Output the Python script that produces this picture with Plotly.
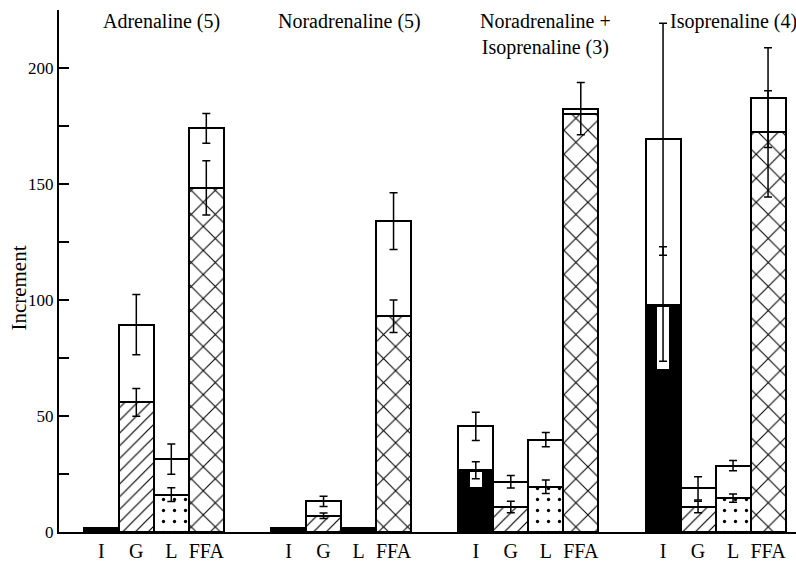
import plotly.graph_objects as go

groups = ["Adrenaline (5)", "Noradrenaline (5)", "Noradrenaline +<br>Isoprenaline (3)", "Isoprenaline (4)"]
categories = ["I", "G", "L", "FFA"]

# lower (patterned) part of each bar, per category, across the four groups
i_lower = [1.8, 1.8, 26.6, 97.9]
g_lower = [55.9, 7.0, 10.8, 10.8]
l_lower = [16.1, 1.0, 19.5, 14.6]
ffa_lower = [148.3, 93.0, 180.0, 172.6]

# total height (upper open part on top of the patterned part)
i_total = [1.8, 1.8, 45.5, 169.3]
g_total = [89.4, 13.2, 21.7, 18.8]
l_total = [31.4, 1.6, 39.8, 28.6]
ffa_total = [174.0, 134.0, 182.5, 187.2]

# error bars of the lower part
i_lower_err_plus = [0, 0, 3.7, 25.0]
i_lower_err_minus = [0, 0, 3.7, 24.3]
g_lower_err = [6.0, 1.2, 2.5, 2.5]
l_lower_err = [3.0, 0, 2.9, 1.8]
ffa_lower_err_plus = [11.7, 7.0, 0, 17.6]
ffa_lower_err_minus = [11.7, 7.0, 0, 28.2]

# error bars of the total
i_total_err = [0, 0, 6.1, 50.0]
g_total_err = [13.0, 2.2, 2.7, 5.0]
l_total_err = [6.5, 0, 3.1, 2.2]
ffa_total_err = [6.4, 12.2, 11.3, 21.5]

lowers = [i_lower, g_lower, l_lower, ffa_lower]
totals = [i_total, g_total, l_total, ffa_total]
lower_plus = [i_lower_err_plus, g_lower_err, l_lower_err, ffa_lower_err_plus]
lower_minus = [i_lower_err_minus, g_lower_err, l_lower_err, ffa_lower_err_minus]
total_errs = [i_total_err, g_total_err, l_total_err, ffa_total_err]

FONT = "Liberation Serif"
STEP = 5.35  # group spacing in bar widths


def xpos(g, k):
    return g * STEP + k


fig = go.Figure()

# white totals (background)
tx, ty = [], []
for k in range(4):
    for g in range(4):
        tx.append(xpos(g, k))
        ty.append(totals[k][g])
fig.add_trace(go.Bar(x=tx, y=ty, width=1, marker=dict(color="white", line=dict(color="black", width=2)),
                     showlegend=False, hoverinfo="skip"))

patterns = [
    None,
    dict(shape="/", size=9, solidity=0.13, fgcolor="#000000", bgcolor="#ffffff", fgopacity=1, fillmode="overlay"),
    dict(shape=".", size=11, solidity=0.07, fgcolor="#000000", bgcolor="#ffffff", fgopacity=1, fillmode="overlay"),
    dict(shape="x", size=17, solidity=0.12, fgcolor="#000000", bgcolor="#ffffff", fgopacity=1, fillmode="overlay"),
]
for k in range(4):
    xs = [xpos(g, k) for g in range(4)]
    if patterns[k] is None:
        marker = dict(color="black", line=dict(color="black", width=2))
    else:
        marker = dict(color="white", pattern=patterns[k], line=dict(color="black", width=2))
    fig.add_trace(go.Bar(x=xs, y=lowers[k], width=1, marker=marker, showlegend=False, hoverinfo="skip"))

# white strips behind the error bars inside the black bars
cx, cb, ch = [], [], []
for g in range(4):
    if i_lower_err_minus[g] > 0:
        bottom = i_lower[g] - i_lower_err_minus[g] - 3.4
        top = i_lower[g] - 0.7
        cx.append(xpos(g, 0))
        cb.append(bottom)
        ch.append(top - bottom)
fig.add_trace(go.Bar(x=cx, y=ch, base=cb, width=0.36, marker=dict(color="white", line=dict(width=0)),
                     showlegend=False, hoverinfo="skip"))

# error bars
ex, ey, ep, em = [], [], [], []
for k in range(4):
    for g in range(4):
        if lower_plus[k][g] > 0 or lower_minus[k][g] > 0:
            ex.append(xpos(g, k)); ey.append(lowers[k][g])
            ep.append(lower_plus[k][g]); em.append(lower_minus[k][g])
fig.add_trace(go.Scatter(x=ex, y=ey, mode="markers", marker=dict(size=1, color="rgba(0,0,0,0)"),
                         error_y=dict(type="data", array=ep, arrayminus=em, symmetric=False,
                                      color="black", thickness=1.5, width=4),
                         showlegend=False, hoverinfo="skip"))
ex, ey, ee = [], [], []
for k in range(4):
    for g in range(4):
        if total_errs[k][g] > 0:
            ex.append(xpos(g, k)); ey.append(totals[k][g]); ee.append(total_errs[k][g])
fig.add_trace(go.Scatter(x=ex, y=ey, mode="markers", marker=dict(size=1, color="rgba(0,0,0,0)"),
                         error_y=dict(type="data", array=ee, color="black", thickness=1.5, width=4),
                         showlegend=False, hoverinfo="skip"))

tickvals = [xpos(g, k) for g in range(4) for k in range(4)]
ticktext = [categories[k] for g in range(4) for k in range(4)]

yticks = list(range(0, 226, 25))
ytext = [str(v) if v % 50 == 0 and v <= 200 else "" for v in yticks]

title_dx = [0.23, 0.25, 0.5, 0.5]
for g, name in enumerate(groups):
    fig.add_annotation(x=xpos(g, 1.5) + title_dx[g], y=1.004, xref="x", yref="paper",
                       text=name, showarrow=False, xanchor="center", yanchor="top",
                       font=dict(family=FONT, size=20, color="black"))

fig.add_annotation(x=-0.054, y=105, xref="paper", yref="y", text="Increment", textangle=-90,
                   showarrow=False, xanchor="center", yanchor="middle",
                   font=dict(family=FONT, size=21, color="black"))

fig.update_layout(
    width=796, height=562,
    margin=dict(l=59, r=0, t=10, b=25),
    paper_bgcolor="white", plot_bgcolor="white",
    barmode="overlay", bargap=0,
    showlegend=False,
    font=dict(family=FONT, color="black"),
    xaxis=dict(range=[-1.209, 19.849], showgrid=False, zeroline=False, showline=True,
               linecolor="black", linewidth=1.5, ticks="", tickvals=tickvals, ticktext=ticktext,
               tickfont=dict(family=FONT, size=20, color="black")),
    yaxis=dict(range=[0, 225], showgrid=False, zeroline=False, showline=True,
               linecolor="black", linewidth=2, ticks="inside", ticklen=10, tickwidth=1.5,
               tickcolor="black", tickvals=yticks, ticktext=ytext,
               tickfont=dict(family=FONT, size=17, color="black")),
)

fig.write_html("out.html")
